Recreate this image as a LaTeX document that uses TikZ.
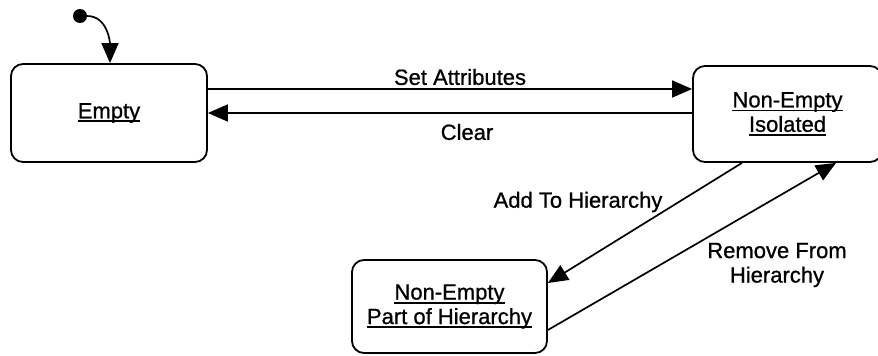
\documentclass[tikz,border=0pt]{standalone}
\usepackage{fontspec}
\setmainfont{Liberation Sans}
\newfontfamily\diagfont{Liberation Sans}[FakeBold=0.8]
\usetikzlibrary{arrows.meta}
% thick underline for state names
\newcommand\stul[1]{\setbox0\hbox{#1}\rlap{\rule[-4pt]{\wd0}{1.8pt}}\box0}
\begin{document}
\begin{tikzpicture}[x=1pt,y=-1pt,
  state/.style={draw, line width=1.8pt, rounded corners=12pt, align=center,
    font=\diagfont\fontsize{22}{24.5}\selectfont, inner sep=0pt},
  trans/.style={line width=1.7pt, -{Triangle[length=20pt,width=17pt]}},
  lbl/.style={font=\diagfont\fontsize{22}{24.5}\selectfont, inner sep=0pt, align=center}]
\clip (0,0) rectangle (878,356);
\fill[white] (0,0) rectangle (878,356);

% states
\node[state, minimum width=196pt, minimum height=98pt] (empty) at (109,113) {\stul{Empty}};
\node[state, minimum width=189pt, minimum height=96pt] (iso) at (787.5,114)
  {\stul{Non-Empty}\\\stul{Isolated}};
\node[state, minimum width=195pt, minimum height=93pt] (part) at (449.5,306.5)
  {\stul{Non-Empty}\\\stul{Part of Hierarchy}};

% initial pseudo-state
\node[circle, fill, inner sep=0pt, minimum size=14pt] (init) at (80,16) {};
\draw[trans] (init.east) to[out=0, in=90] ([xshift=1pt]empty.north);

% transitions
\draw[trans] ([yshift=24pt]empty.east) -- ([yshift=24pt]empty.east -| iso.west);
\draw[trans] (iso.west |- empty.east) -- (empty.east);
\draw[trans] ([xshift=-45.5pt]iso.south) -- ([yshift=23.5pt]part.east);
\draw[trans] ([yshift=-23.5pt]part.east) -- ([xshift=48.5pt]iso.south);

% labels
\node[lbl] (lset) at (460,77) {Set Attributes};
\node[lbl] (lclr) at (467,132) {Clear};
\node[lbl] (ladd) at (578,202) {Add To Hierarchy};
\node[lbl] (lrem) at (777,265) {Remove From\\Hierarchy};
\end{tikzpicture}
\end{document}
